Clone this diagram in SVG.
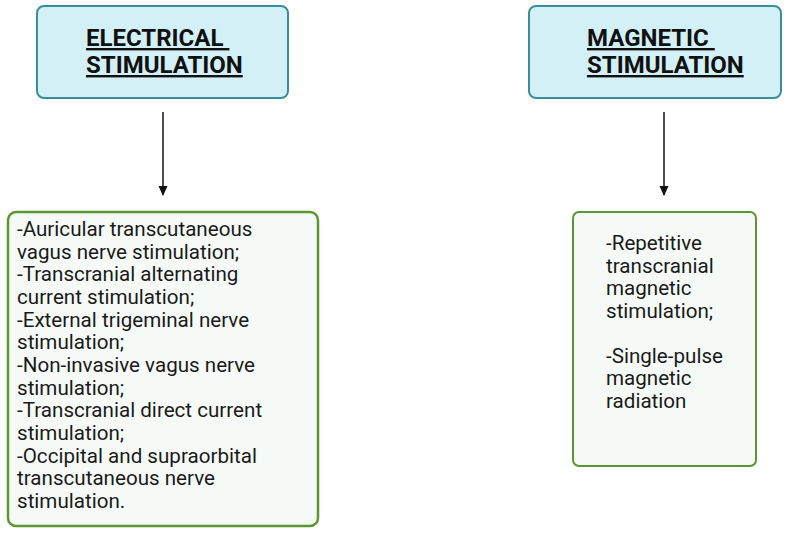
<svg xmlns="http://www.w3.org/2000/svg" width="786" height="535" viewBox="0 0 786 535">
<style>
.head{fill:#d2f0f6;stroke:#3a8e9c;stroke-width:2}
.list{fill:#f6faf6;stroke:#5c9630;stroke-width:2.5}
.ht{font-family:Roboto,"Liberation Sans",sans-serif;font-weight:bold;font-size:24px;fill:#111;text-decoration:underline}
.bt{font-family:Roboto,"Liberation Sans",sans-serif;font-size:20.6px;fill:#1a1a1a}
.conn{stroke:#222;stroke-width:1.6;fill:none}
</style>
<defs>
<marker id="ah" markerWidth="10" markerHeight="10" refX="9" refY="5" orient="auto" markerUnits="userSpaceOnUse">
<path d="M0,0.5 L10,5 L0,9.5 Z" fill="#111"/>
</marker>
</defs>
<rect width="786" height="535" fill="#fff"/>
<g id="electrical">
<rect class="head" x="37" y="6" width="251" height="92" rx="7"/>
<text class="ht" x="86" y="46" xml:space="preserve">ELECTRICAL </text>
<text class="ht" x="86" y="73">STIMULATION</text>
</g>
<g id="magnetic">
<rect class="head" x="529" y="6" width="252" height="92" rx="7"/>
<text class="ht" x="587" y="46" xml:space="preserve">MAGNETIC </text>
<text class="ht" x="587" y="73">STIMULATION</text>
</g>
<g id="electrical-list">
<rect class="list" x="8" y="212" width="310" height="314" rx="8"/>
<text class="bt">
<tspan x="17" y="236">-Auricular transcutaneous</tspan>
<tspan x="17" y="258.7">vagus nerve stimulation;</tspan>
<tspan x="17" y="281.3">-Transcranial alternating</tspan>
<tspan x="17" y="304">current stimulation;</tspan>
<tspan x="17" y="326.7">-External trigeminal nerve</tspan>
<tspan x="17" y="349.3">stimulation;</tspan>
<tspan x="17" y="372">-Non-invasive vagus nerve</tspan>
<tspan x="17" y="394.7">stimulation;</tspan>
<tspan x="17" y="417.3">-Transcranial direct current</tspan>
<tspan x="17" y="440">stimulation;</tspan>
<tspan x="17" y="462.7">-Occipital and supraorbital</tspan>
<tspan x="17" y="485.3">transcutaneous nerve</tspan>
<tspan x="17" y="508">stimulation.</tspan>
</text>
</g>
<g id="magnetic-list">
<rect class="list" x="573" y="212" width="183" height="254" rx="6" style="stroke-width:2"/>
<text class="bt">
<tspan x="606" y="250">-Repetitive</tspan>
<tspan x="606" y="272.5">transcranial</tspan>
<tspan x="606" y="295">magnetic</tspan>
<tspan x="606" y="317.5">stimulation;</tspan>
<tspan x="606" y="362.5">-Single-pulse</tspan>
<tspan x="606" y="385">magnetic</tspan>
<tspan x="606" y="407.5">radiation</tspan>
</text>
</g>
<g id="connectors">
<line class="conn" x1="163" y1="112" x2="163" y2="195" marker-end="url(#ah)"/>
<line class="conn" x1="664" y1="112" x2="664" y2="195" marker-end="url(#ah)"/>
</g>
</svg>
